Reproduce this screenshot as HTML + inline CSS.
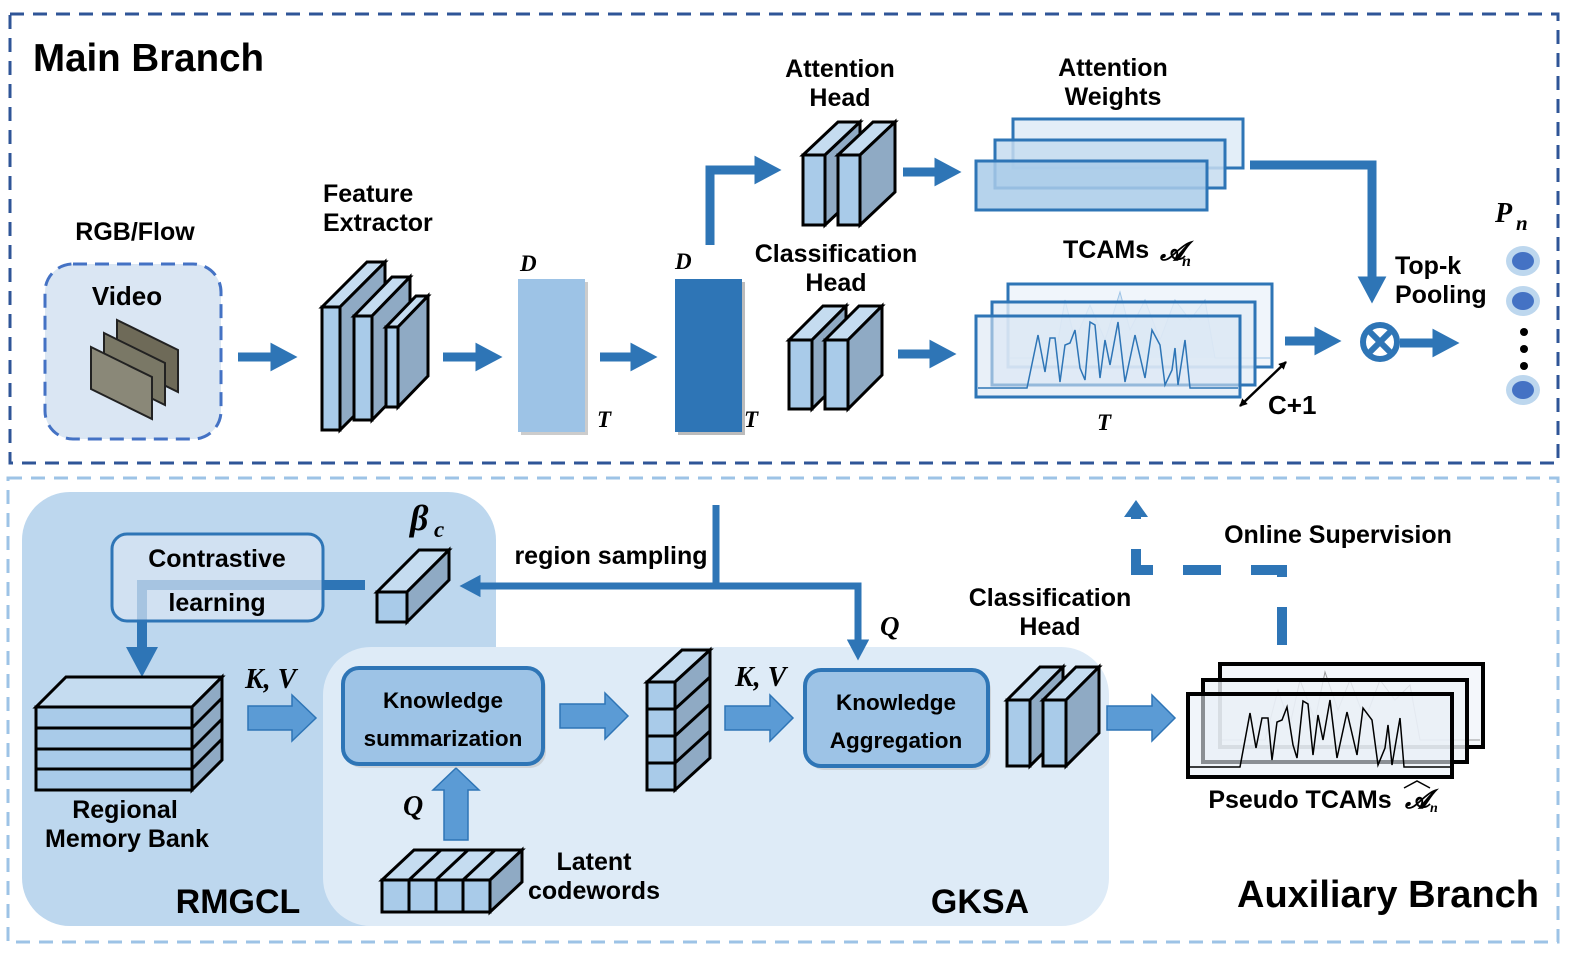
<!DOCTYPE html>
<html><head><meta charset="utf-8"><style>
html,body{margin:0;padding:0;background:#fff}
svg{display:block}
text{font-family:"Liberation Sans",sans-serif;font-weight:bold;fill:#000}
.m{font-family:"Liberation Serif",serif;font-style:italic;font-weight:bold}
</style></head><body>
<svg width="1577" height="954" viewBox="0 0 1577 954" xmlns="http://www.w3.org/2000/svg">
<defs>
<marker id="ah" markerWidth="3" markerHeight="3.2" refX="1.5" refY="1.6" orient="auto" markerUnits="strokeWidth"><path d="M0,0 L3,1.6 L0,3.2 Z" fill="#2e75b6"/></marker>
<marker id="bh" markerWidth="8" markerHeight="8" refX="7" refY="4" orient="auto-start-reverse" markerUnits="userSpaceOnUse"><path d="M0,0 L8,4 L0,8 Z" fill="#000"/></marker>
</defs>
<g stroke-linejoin="miter">
<rect x="10" y="14" width="1548" height="449" fill="none" stroke="#2f5597" stroke-width="3" stroke-dasharray="14,9"/>
<rect x="8" y="478" width="1550" height="464" fill="none" stroke="#9dc3e6" stroke-width="3" stroke-dasharray="14,9"/>
<text x="33" y="71" font-size="38.5">Main Branch</text>

<text x="135" y="240" font-size="25" text-anchor="middle">RGB/Flow</text>
<rect x="45" y="264" width="176" height="175" rx="28" fill="#dae6f3" stroke="#4472c4" stroke-width="3" stroke-dasharray="14,8"/>
<text x="127" y="305" font-size="26" text-anchor="middle">Video</text>
<g stroke="#222" stroke-width="2">
<polygon points="117,320 178,350 178,392 117,362" fill="#6e6a58"/>
<polygon points="104,333 165,363 165,405 104,375" fill="#7a7866"/>
<polygon points="91,347 152,377 152,419 91,389" fill="#8a8878"/>
</g>

<g stroke="#2e75b6" stroke-width="9" fill="none" marker-end="url(#ah)">
<line x1="238" y1="357" x2="284" y2="357"/>
<line x1="443" y1="357" x2="489" y2="357"/>
<line x1="600" y1="357" x2="644" y2="357"/>
<polyline points="710,245 710,170 768,170"/>
<line x1="903" y1="172" x2="948" y2="172"/>
<line x1="898" y1="354" x2="943" y2="354"/>
<polyline points="1250,165 1372,165 1372,290"/>
<line x1="1285" y1="341" x2="1328" y2="341"/>
<line x1="1400" y1="343" x2="1446" y2="343"/>
</g>

<g stroke="#000" stroke-width="3">
<polygon points="322,307 367,262 385,262 340,307" fill="#c5dcf0"/><polygon points="340,307 385,262 385,385 340,430" fill="#8faac4"/><rect x="322" y="307" width="18" height="123" fill="#a9cbe9"/>
<polygon points="354,316 392,277 410,277 372,316" fill="#c5dcf0"/><polygon points="372,316 410,277 410,381 372,420" fill="#8faac4"/><rect x="354" y="316" width="18" height="104" fill="#a9cbe9"/>
<polygon points="386,327 416,296 428,296 398,327" fill="#c5dcf0"/><polygon points="398,327 428,296 428,376 398,407" fill="#8faac4"/><rect x="386" y="327" width="12" height="80" fill="#a9cbe9"/>
</g>
<text x="323" y="202" font-size="25">Feature</text>
<text x="323" y="231" font-size="25">Extractor</text>

<rect x="521" y="282" width="67" height="153" fill="#ccc"/>
<rect x="518" y="279" width="67" height="153" fill="#9dc3e6"/>
<rect x="678" y="282" width="67" height="153" fill="#bbb"/>
<rect x="675" y="279" width="67" height="153" fill="#2e75b6"/>
<text class="m" x="520" y="271" font-size="23">D</text>
<text class="m" x="597" y="427" font-size="23">T</text>
<text class="m" x="675" y="269" font-size="23">D</text>
<text class="m" x="744" y="427" font-size="23">T</text>

<text x="840" y="77" font-size="25" text-anchor="middle">Attention</text>
<text x="840" y="106" font-size="25" text-anchor="middle">Head</text>
<g stroke="#000" stroke-width="3">
<polygon points="803,155 838,122 860,122 825,155" fill="#c5dcf0"/><polygon points="825,155 860,122 860,192 825,225" fill="#8faac4"/><rect x="803" y="155" width="22" height="70" fill="#a9cbe9"/>
<polygon points="838,155 873,122 895,122 860,155" fill="#c5dcf0"/><polygon points="860,155 895,122 895,192 860,225" fill="#8faac4"/><rect x="838" y="155" width="22" height="70" fill="#a9cbe9"/>
</g>
<text x="836" y="262" font-size="25" text-anchor="middle">Classification</text>
<text x="836" y="291" font-size="25" text-anchor="middle">Head</text>
<g stroke="#000" stroke-width="3">
<polygon points="789,340 823,306 846,306 812,340" fill="#c5dcf0"/><polygon points="812,340 846,306 846,375 812,409" fill="#8faac4"/><rect x="789" y="340" width="23" height="69" fill="#a9cbe9"/>
<polygon points="825,340 859,306 882,306 848,340" fill="#c5dcf0"/><polygon points="848,340 882,306 882,375 848,409" fill="#8faac4"/><rect x="825" y="340" width="23" height="69" fill="#a9cbe9"/>
</g>

<text x="1113" y="76" font-size="25" text-anchor="middle">Attention</text>
<text x="1113" y="105" font-size="25" text-anchor="middle">Weights</text>
<g stroke="#2e75b6" stroke-width="3">
<rect x="1013" y="119" width="230" height="49" fill="#e3eef8"/>
<rect x="995" y="140" width="230" height="48" fill="#c5dcf0" fill-opacity="0.85"/>
<rect x="976" y="161" width="231" height="49" fill="#a9cbe9" fill-opacity="0.85"/>
</g>

<text x="1063" y="258" font-size="25">TCAMs</text>
<text class="m" x="1160" y="260" font-size="26">𝓐</text><text class="m" x="1182" y="266" font-size="16">n</text>
<g stroke="#2e75b6" stroke-width="3">
<rect x="1008" y="284" width="264" height="83" fill="#f0f5fb"/>
<polyline fill="#c5dcf0" fill-opacity="0.5" stroke="#9dc3e6" stroke-width="1" points="1010,358 1055,358 1065,300 1075,340 1090,305 1105,340 1120,292 1130,330 1145,300 1160,340 1175,300 1190,320 1205,300 1215,358 1270,358"/>
<rect x="992" y="302" width="263" height="83" fill="#e3eef8" fill-opacity="0.8"/>
<rect x="976" y="316" width="264" height="81" fill="#dae6f3" fill-opacity="0.6"/>
<polyline fill="none" stroke="#2e75b6" stroke-width="1.5" points="978,388 1027,388 1038,335 1045,372 1050,338 1055,338 1060,382 1065,345 1070,343 1075,330 1080,368 1085,380 1090,322 1095,325 1100,378 1105,340 1110,365 1118,322 1125,382 1135,335 1145,378 1152,330 1160,345 1165,385 1172,370 1175,348 1178,385 1185,340 1190,388 1238,388"/>
</g>
<text class="m" x="1097" y="430" font-size="23">T</text>
<line x1="1240" y1="406" x2="1286" y2="362" stroke="#000" stroke-width="2.5" marker-start="url(#bh)" marker-end="url(#bh)"/>
<text x="1268" y="414" font-size="26">C+1</text>

<circle cx="1380" cy="342" r="17" fill="none" stroke="#2e75b6" stroke-width="6"/>
<g stroke="#2e75b6" stroke-width="6"><line x1="1370" y1="332" x2="1390" y2="352"/><line x1="1390" y1="332" x2="1370" y2="352"/></g>
<text x="1395" y="274" font-size="25">Top-k</text>
<text x="1395" y="303" font-size="25">Pooling</text>
<text class="m" x="1495" y="222" font-size="28">P</text><text class="m" x="1516" y="230" font-size="21">n</text>
<g fill="#bdd7ee"><ellipse cx="1523" cy="261" rx="17" ry="15"/><ellipse cx="1523" cy="301" rx="17" ry="15"/><ellipse cx="1523" cy="390" rx="17" ry="15"/></g>
<g fill="#4472c4"><ellipse cx="1523" cy="261" rx="11" ry="9"/><ellipse cx="1523" cy="301" rx="11" ry="9"/><ellipse cx="1523" cy="390" rx="11" ry="9"/></g>
<g fill="#000"><circle cx="1524" cy="332" r="4"/><circle cx="1524" cy="349" r="4"/><circle cx="1524" cy="366" r="4"/></g>

<rect x="22" y="492" width="474" height="434" rx="48" fill="#bdd7ee"/>
<rect x="323" y="647" width="786" height="279" rx="48" fill="#deebf7"/>

<g stroke="#2e75b6" stroke-width="10" fill="none"><polyline points="365,585 142,585 142,662" marker-end="url(#ah)"/></g>
<rect x="112" y="534" width="211" height="87" rx="15" fill="#dae6f3" fill-opacity="0.7" stroke="#2e75b6" stroke-width="3"/>
<text x="217" y="567" font-size="25" text-anchor="middle">Contrastive</text>
<text x="217" y="611" font-size="25" text-anchor="middle">learning</text>
<g stroke="#000" stroke-width="3">
<polygon points="377,592 419,550 449,550 407,592" fill="#c5dcf0"/><polygon points="407,592 449,550 449,580 407,622" fill="#8faac4"/><rect x="377" y="592" width="30" height="30" fill="#a9cbe9"/>
</g>
<text class="m" x="410" y="530" font-size="36">β</text><text class="m" x="434" y="537" font-size="23">c</text>

<g stroke="#2e75b6" stroke-width="7" fill="none">
<line x1="716" y1="505" x2="716" y2="586"/>
<line x1="716" y1="586" x2="470" y2="586" marker-end="url(#ah)"/>
<polyline points="716,586 858,586 858,650" marker-end="url(#ah)"/>
</g>
<text x="611" y="564" font-size="25" text-anchor="middle">region sampling</text>
<text class="m" x="880" y="635" font-size="27">Q</text>

<g stroke="#000" stroke-width="3">
<polygon points="36,707 66,677 222,677 192,707" fill="#c5dcf0"/>
<polygon points="192,707 222,677 222,760 192,790" fill="#8faac4"/>
<rect x="36" y="707" width="156" height="83" fill="#a9cbe9"/>
<line x1="36" y1="728" x2="192" y2="728"/><line x1="36" y1="749" x2="192" y2="749"/><line x1="36" y1="769" x2="192" y2="769"/>
<line x1="192" y1="728" x2="222" y2="698"/><line x1="192" y1="749" x2="222" y2="719"/><line x1="192" y1="769" x2="222" y2="739"/>
</g>
<text x="125" y="818" font-size="25" text-anchor="middle">Regional</text>
<text x="127" y="847" font-size="25" text-anchor="middle">Memory Bank</text>
<text x="238" y="913" font-size="34" text-anchor="middle">RMGCL</text>

<g fill="#5b9bd5" stroke="#2e75b6" stroke-width="1.5">
<path d="M248,706 H292 V695 L316,718 L292,741 V730 H248 Z"/>
<path d="M560,704 H605 V693 L628,716 L605,739 V728 H560 Z"/>
<path d="M725,706 H770 V695 L793,718 L770,741 V730 H725 Z"/>
<path d="M1107,706 H1152 V695 L1175,718 L1152,741 V730 H1107 Z"/>
<path d="M444,840 V790 H433 L456,768 L479,790 H468 V840 Z"/>
</g>
<text class="m" x="245" y="688" font-size="28">K, V</text>
<text class="m" x="735" y="686" font-size="28">K, V</text>
<text class="m" x="403" y="815" font-size="28">Q</text>

<rect x="346" y="672" width="200" height="96" rx="16" fill="#bbb" opacity="0.5"/>
<rect x="343" y="668" width="200" height="96" rx="16" fill="#9dc3e6" stroke="#2e75b6" stroke-width="4"/>
<text x="443" y="708" font-size="22.5" text-anchor="middle">Knowledge</text>
<text x="443" y="746" font-size="22.5" text-anchor="middle">summarization</text>
<rect x="808" y="674" width="183" height="96" rx="16" fill="#bbb" opacity="0.5"/>
<rect x="805" y="670" width="183" height="96" rx="16" fill="#9dc3e6" stroke="#2e75b6" stroke-width="4"/>
<text x="896" y="710" font-size="22.5" text-anchor="middle">Knowledge</text>
<text x="896" y="748" font-size="22.5" text-anchor="middle">Aggregation</text>

<g stroke="#000" stroke-width="3">
<polygon points="382,880 414,850 522,850 490,880" fill="#c5dcf0"/>
<polygon points="490,880 522,850 522,882 490,912" fill="#8faac4"/>
<rect x="382" y="880" width="108" height="32" fill="#a9cbe9"/>
<line x1="409" y1="880" x2="409" y2="912"/><line x1="436" y1="880" x2="436" y2="912"/><line x1="463" y1="880" x2="463" y2="912"/>
<line x1="409" y1="880" x2="441" y2="850"/><line x1="436" y1="880" x2="468" y2="850"/><line x1="463" y1="880" x2="495" y2="850"/>
</g>
<text x="594" y="870" font-size="25" text-anchor="middle">Latent</text>
<text x="594" y="899" font-size="25" text-anchor="middle">codewords</text>

<g stroke="#000" stroke-width="3">
<polygon points="647,682 682,650 710,650 675,682" fill="#c5dcf0"/>
<polygon points="675,682 710,650 710,758 675,790" fill="#8faac4"/>
<rect x="647" y="682" width="28" height="108" fill="#a9cbe9"/>
<line x1="647" y1="709" x2="675" y2="709"/><line x1="647" y1="736" x2="675" y2="736"/><line x1="647" y1="763" x2="675" y2="763"/>
<line x1="675" y1="709" x2="710" y2="677"/><line x1="675" y1="736" x2="710" y2="704"/><line x1="675" y1="763" x2="710" y2="731"/>
</g>

<text x="1050" y="606" font-size="25" text-anchor="middle">Classification</text>
<text x="1050" y="635" font-size="25" text-anchor="middle">Head</text>
<g stroke="#000" stroke-width="3">
<polygon points="1007,700 1040,667 1063,667 1030,700" fill="#c5dcf0"/><polygon points="1030,700 1063,667 1063,733 1030,766" fill="#8faac4"/><rect x="1007" y="700" width="23" height="66" fill="#a9cbe9"/>
<polygon points="1043,700 1076,667 1099,667 1066,700" fill="#c5dcf0"/><polygon points="1066,700 1099,667 1099,733 1066,766" fill="#8faac4"/><rect x="1043" y="700" width="23" height="66" fill="#a9cbe9"/>
</g>
<text x="980" y="913" font-size="34" text-anchor="middle">GKSA</text>

<g stroke="#000" stroke-width="4">
<rect x="1220" y="664" width="263" height="83" fill="#f4f7fb"/>
<polyline fill="none" stroke="#999" stroke-width="1" points="1222,740 1265,740 1278,690 1290,725 1300,680 1315,720 1325,672 1338,710 1350,680 1365,720 1380,680 1395,700 1410,685 1420,740 1480,740"/>
<rect x="1203" y="680" width="264" height="82" fill="#eef2f8" fill-opacity="0.8"/>
<rect x="1188" y="694" width="264" height="83" fill="#e8eef6" fill-opacity="0.6"/>
<polyline fill="none" stroke="#000" stroke-width="1.5" points="1190,767 1240,767 1250,713 1256,748 1262,718 1268,718 1272,760 1277,722 1282,720 1287,707 1293,745 1297,758 1303,701 1308,704 1313,755 1318,715 1323,740 1330,700 1337,758 1347,712 1357,755 1363,708 1372,720 1378,765 1385,748 1388,725 1392,765 1400,718 1404,767 1450,767"/>
</g>
<text x="1300" y="808" font-size="25" text-anchor="middle">Pseudo TCAMs</text>
<text class="m" x="1405" y="808" font-size="26">𝓐</text><text class="m" x="1430" y="812" font-size="14">n</text>
<path d="M1404,788 L1417,781 L1430,788" fill="none" stroke="#000" stroke-width="1.5"/>

<g stroke="#2e75b6" stroke-width="10" fill="none" stroke-dasharray="38,30">
<polyline points="1282,645 1282,570 1136,570 1136,515"/>
</g>
<path d="M1124,517 L1136,500 L1148,517 Z" fill="#2e75b6"/>
<text x="1338" y="543" font-size="25" text-anchor="middle">Online Supervision</text>
<text x="1388" y="907" font-size="38" text-anchor="middle">Auxiliary Branch</text>
</g>
</svg>
</body></html>
